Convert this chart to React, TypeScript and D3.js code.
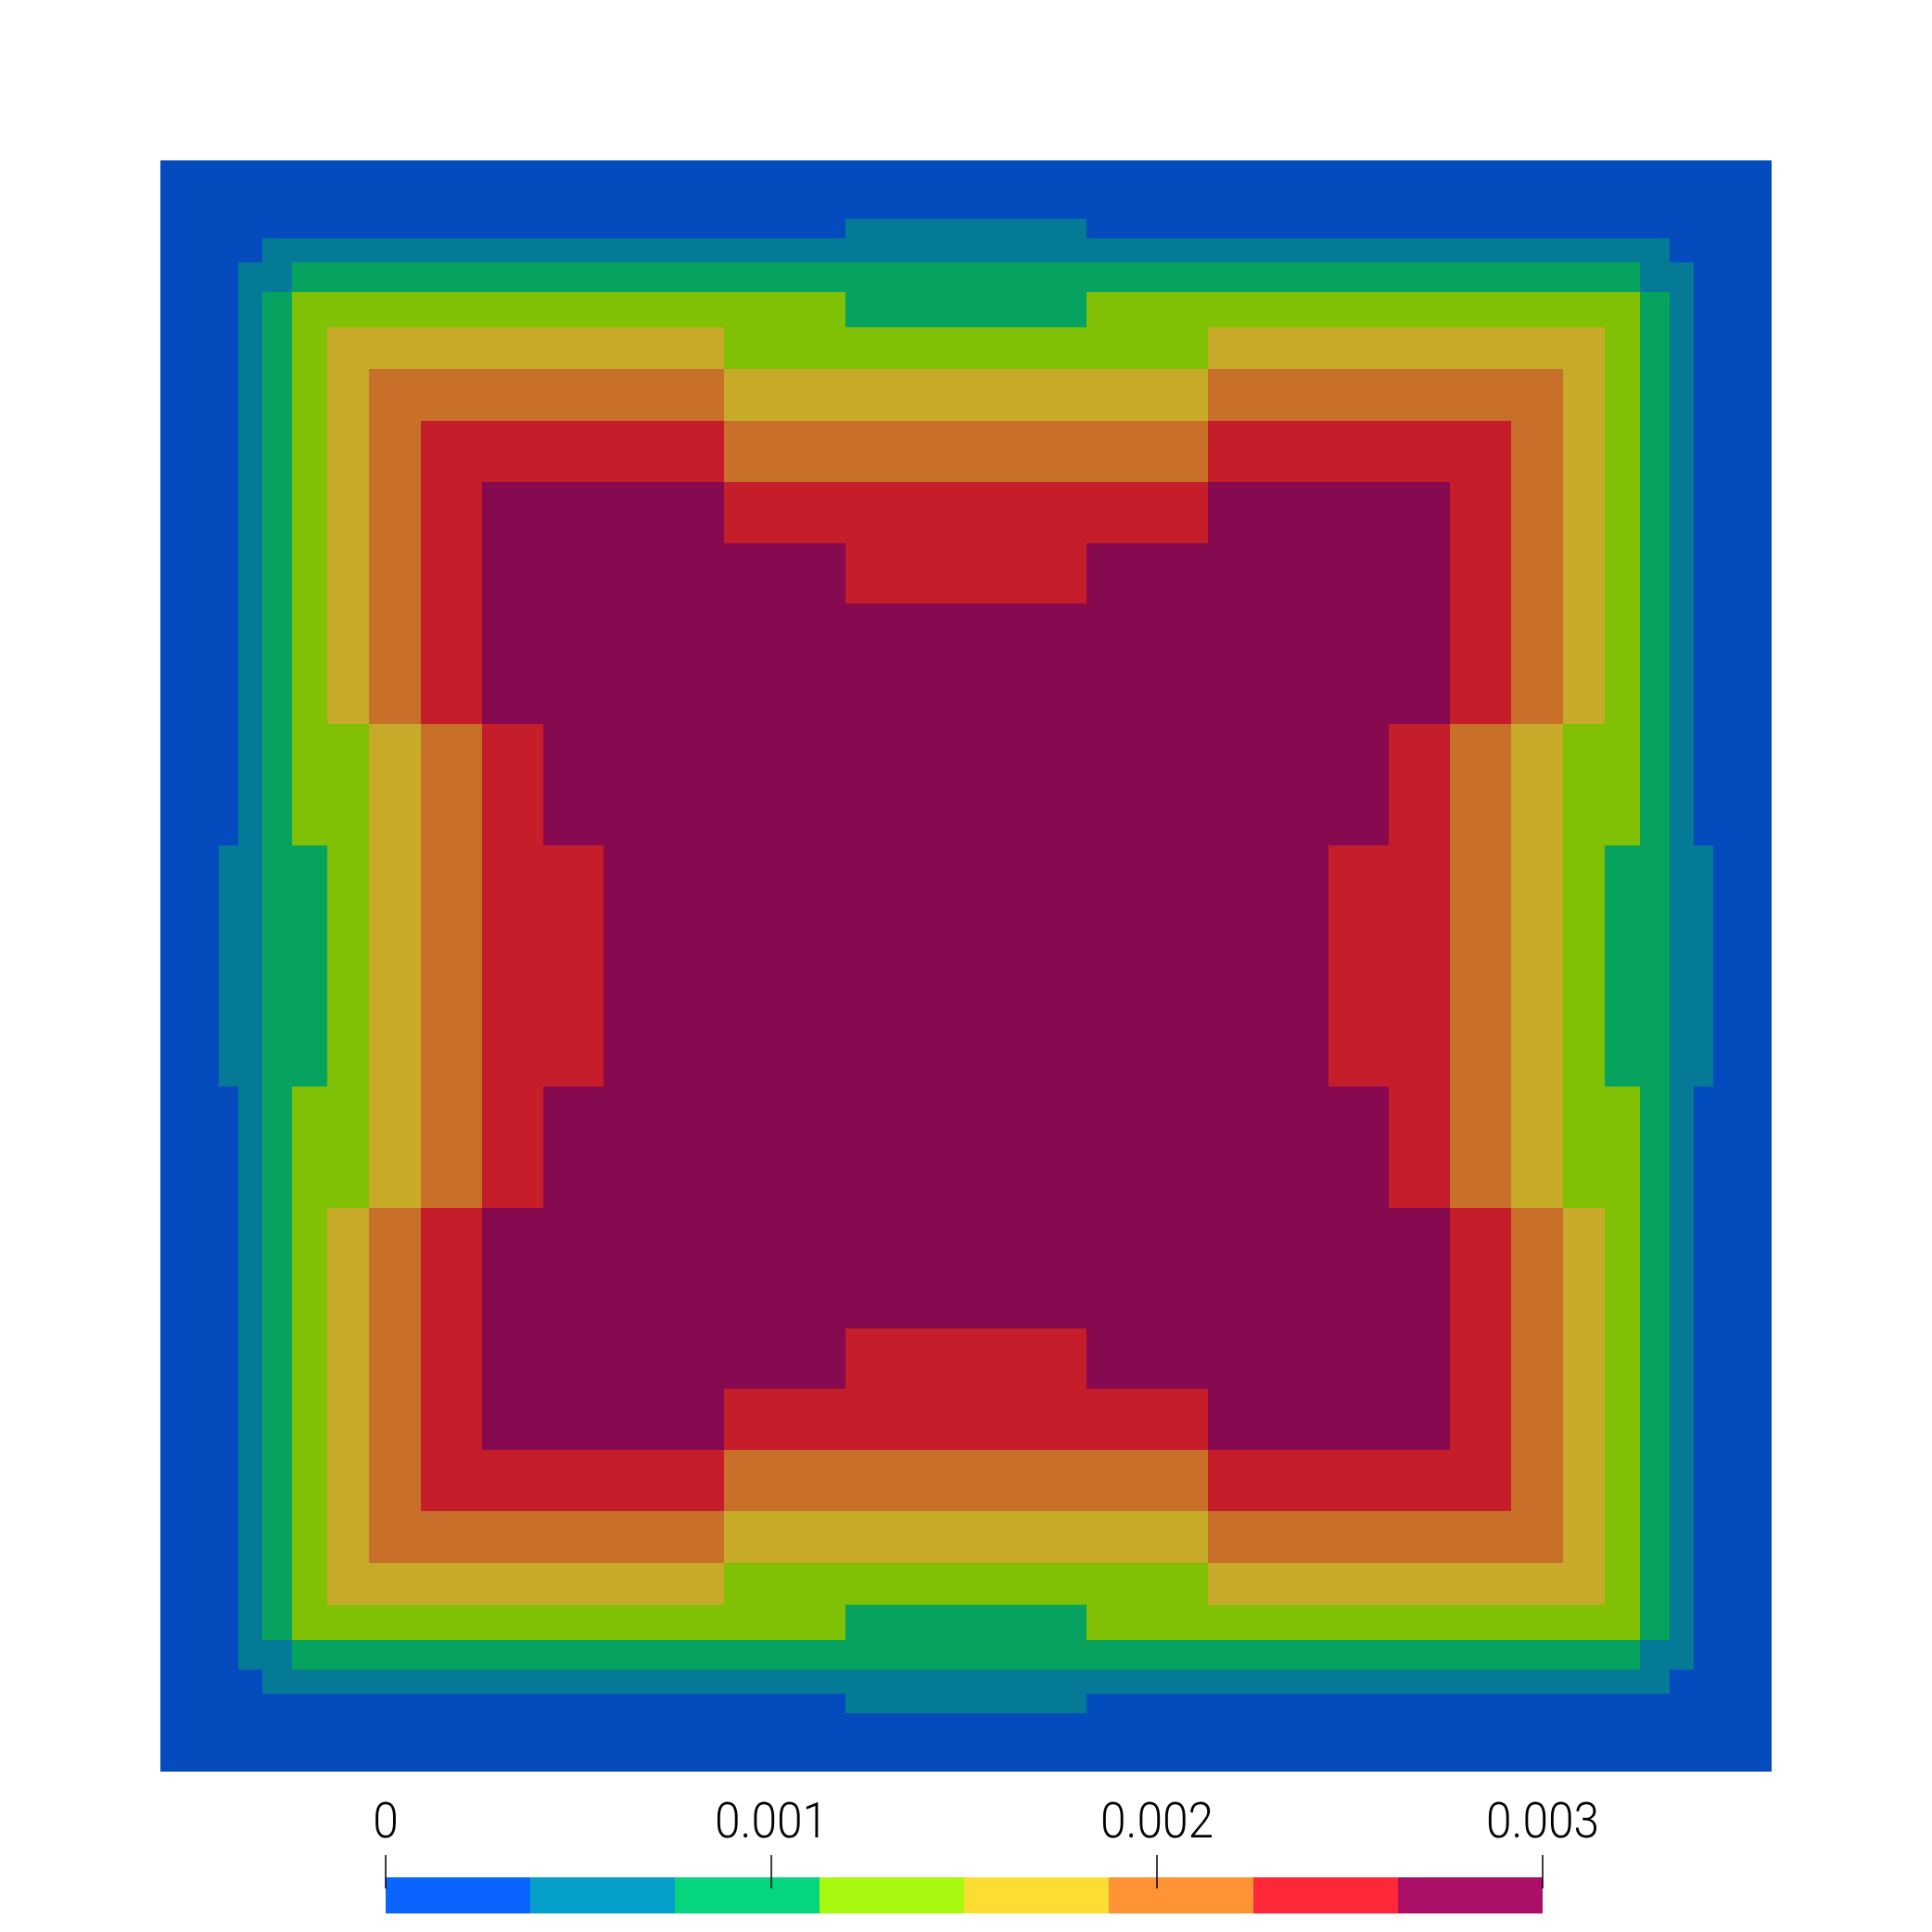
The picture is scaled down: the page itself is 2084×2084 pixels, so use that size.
import React from "react";
import * as d3 from "d3";

// Half of the (symmetric) non-uniform mesh edges, in domain units [0, 0.5)
const halfEdges = [0, 0.0362, 0.0483, 0.0633, 0.0817, 0.1036, 0.1295, 0.1617, 0.1997, 0.2376, 0.275, 0.3498, 0.4252];

// Band index (0..7) of each cell in the top-left quadrant (rows = y, cols = x), mirrored to fill the square
const bandQuadrant = [
  "0000000000000",
  "0000000000001",
  "0001111111111",
  "0011222222222",
  "0012333333332",
  "0012344444433",
  "0012345555544",
  "0012345666655",
  "0012345677766",
  "0012345677776",
  "0012345677777",
  "0012334567777",
  "0112234566777",
];

const colorbarMin = 0;
const colorbarMax = 0.003;
const nBands = 8;
const tickValues = [0, 0.001, 0.002, 0.003];
const tickLabels = ["0", "0.001", "0.002", "0.003"];

// Lit surface colours and the colour-bar colours
const surfaceColors = ["#044cbd", "#047a96", "#05a35d", "#80c106", "#c6aa28", "#c87029", "#c51d2a", "#870a50"];
const legendColors = ["#0a64ff", "#069fc9", "#05d57d", "#a6f90f", "#fedd33", "#ff9436", "#ff2838", "#ab0f68"];

export default function App() {
  const W = 2084;
  const H = 2084;
  const edges = [...halfEdges, ...halfEdges.slice().reverse().map((e) => 1 - e)];
  const n = edges.length - 1; // 25
  const half = halfEdges.length; // 13
  const bandAt = (r: number, c: number) => {
    const rr = r < half ? r : n - 1 - r;
    const cc = c < half ? c : n - 1 - c;
    return +bandQuadrant[rr][cc];
  };
  const bandWidth = (colorbarMax - colorbarMin) / nBands;
  const values: number[][] = d3.range(n).map((r) => d3.range(n).map((c) => colorbarMin + (bandAt(r, c) + 0.5) * bandWidth));

  const x = d3.scaleLinear().domain([0, 1]).range([173, 1911]);
  const y = d3.scaleLinear().domain([0, 1]).range([173, 1911]);
  const surf = d3.scaleQuantize<string>().domain([colorbarMin, colorbarMax]).range(surfaceColors);
  const leg = d3.scaleQuantize<string>().domain([colorbarMin, colorbarMax]).range(legendColors);

  const cb = d3.scaleLinear().domain([colorbarMin, colorbarMax]).range([416, 1664]);
  const cbTop = 2025;
  const cbBottom = 2064;
  const bandStarts = d3.range(nBands).map((k) => colorbarMin + k * bandWidth);

  return (
    <svg width={W} height={H} style={{ position: "absolute", left: 0, top: 0, background: "#fff" }}>
      <rect x={0} y={0} width={W} height={H} fill="#fff" />
      <g shapeRendering="crispEdges">
        {values.map((row, r) =>
          row.map((v, c) => (
            <rect
              key={`${r}-${c}`}
              x={x(edges[c])}
              y={y(edges[r])}
              width={x(edges[c + 1]) - x(edges[c])}
              height={y(edges[r + 1]) - y(edges[r])}
              fill={surf(v)}
            />
          ))
        )}
      </g>
      <g shapeRendering="crispEdges">
        {bandStarts.map((s, k) => (
          <rect key={k} x={cb(s)} y={cbTop} width={cb(s + bandWidth) - cb(s)} height={cbBottom - cbTop} fill={leg(s + bandWidth / 2)} />
        ))}
      </g>
      {tickValues.map((t, k) => (
        <g key={k}>
          <line x1={cb(t)} x2={cb(t)} y1={2001} y2={2037} stroke="#000" strokeWidth={1.5} />
          <text
            transform={`translate(${cb(t)},1982) scale(0.92,1)`}
            textAnchor="middle"
            fontFamily="Roboto, 'Liberation Sans', sans-serif"
            fontWeight={300}
            fontSize={54}
            fill="#000"
          >
            {tickLabels[k]}
          </text>
        </g>
      ))}
    </svg>
  );
}
